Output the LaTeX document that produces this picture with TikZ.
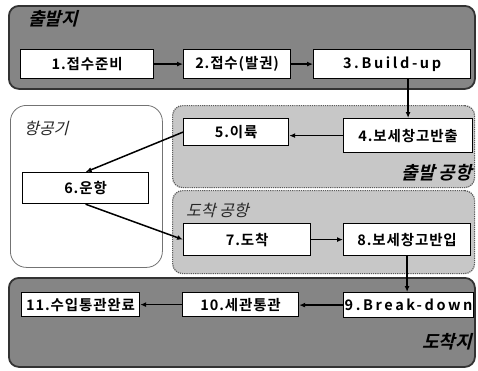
\documentclass[tikz,border=0pt]{standalone}
\usepackage{fontspec}
\setmainfont{Noto Sans CJK KR}[BoldFont={Noto Sans CJK KR Bold}, ItalicFont={Noto Sans CJK KR}, ItalicFeatures={FakeSlant=0.25}, BoldItalicFont={Noto Sans CJK KR Bold}, BoldItalicFeatures={FakeSlant=0.25}]
\usetikzlibrary{arrows.meta}
\begin{document}
\begin{tikzpicture}[x=1bp,y=-1bp,
  box/.style={draw=black, line width=1.2bp, fill=white, anchor=north west, inner sep=0pt,
    font=\fontsize{14.5bp}{17bp}\selectfont\bfseries\addfontfeatures{LetterSpace=6}},
  latinbox/.style={box, font=\fontsize{14.5bp}{17bp}\selectfont\bfseries\addfontfeatures{LetterSpace=18}},
  band/.style={draw=black!80, line width=1.8bp, fill=black!48, rounded corners=10bp, anchor=north west, inner sep=0pt},
  panel/.style={draw=black!65, densely dotted, line width=1.2bp, fill=black!22, rounded corners=10bp, anchor=north west, inner sep=0pt},
  plane/.style={draw=black!55, line width=0.8bp, fill=white, rounded corners=16bp, anchor=north west, inner sep=0pt},
  biglabel/.style={font=\fontsize{18bp}{20bp}\selectfont\bfseries\itshape, text=black, inner sep=0pt},
  midlabel/.style={font=\fontsize{16bp}{18bp}\selectfont\itshape, text=black!85, inner sep=0pt},
  flow/.style={-{Latex[length=6bp,width=5bp]}, line width=1.5bp}]
\useasboundingbox (0,0) rectangle (478,370);
% backgrounds
\node[band, minimum width=466bp, minimum height=83bp] (topband) at (8,5) {};
\node[band, minimum width=466bp, minimum height=89bp] (botband) at (8,277) {};
\node[plane, minimum width=152bp, minimum height=162bp] (planepanel) at (10,105) {};
\node[panel, minimum width=302bp, minimum height=82bp] (deppanel) at (172,105) {};
\node[panel, minimum width=302bp, minimum height=83bp] (arrpanel) at (172,190) {};
% group labels
\node[biglabel, anchor=west] (ldep) at (28,19) {출발지};
\node[midlabel, anchor=west] (lplane) at (24,128) {항공기};
\node[biglabel, anchor=east] (ldepair) at (472,173) {출발 공항};
\node[midlabel, anchor=west] (larrair) at (186,210) {도착 공항};
\node[biglabel, anchor=east] (larr) at (472,342) {도착지};
% steps
\node[box, minimum width=133bp, minimum height=29bp] (n1) at (20,49) {1.접수준비};
\node[box, minimum width=107bp, minimum height=29bp] (n2) at (183,49) {2.접수(발권)};
\node[latinbox, minimum width=157bp, minimum height=29bp] (n3) at (313,49) {3.Build-up};
\node[box, minimum width=129bp, minimum height=34bp] (n4) at (343,118) {4.보세창고반출};
\node[box, minimum width=105bp, minimum height=27bp] (n5) at (183,118) {5.이륙};
\node[box, minimum width=126bp, minimum height=31bp] (n6) at (22,172) {6.운항};
\node[box, minimum width=127bp, minimum height=32bp] (n7) at (183,223) {7.도착};
\node[box, minimum width=127bp, minimum height=32bp] (n8) at (343,223) {8.보세창고반입};
\node[latinbox, minimum width=130bp, minimum height=25bp] (n9) at (343,292) {9.Break-down};
\node[box, minimum width=116bp, minimum height=24bp] (n10) at (182,292) {10.세관통관};
\node[box, minimum width=118bp, minimum height=24bp] (n11) at (21,292) {11.수입통관완료};
% connectors
\draw[flow] (n1) -- (n2);
\draw[flow] (n2) -- (n3);
\draw[flow] (n4.north |- n3.south) -- (n4.north);
\draw[flow] (n4.west) -- (n4.west -| n5.east);
\draw[flow] (n5.west) -- (n6.north);
\draw[flow] (n6.south) -- (n7.west);
\draw[flow] (n7.east) -- (n7.east -| n8.west);
\draw[flow] (n8.south) -- (n8.south |- n9.north);
\draw[flow] (n9.west) -- (n9.west -| n10.east);
\draw[flow] (n10.west) -- (n10.west -| n11.east);
\end{tikzpicture}
\end{document}
